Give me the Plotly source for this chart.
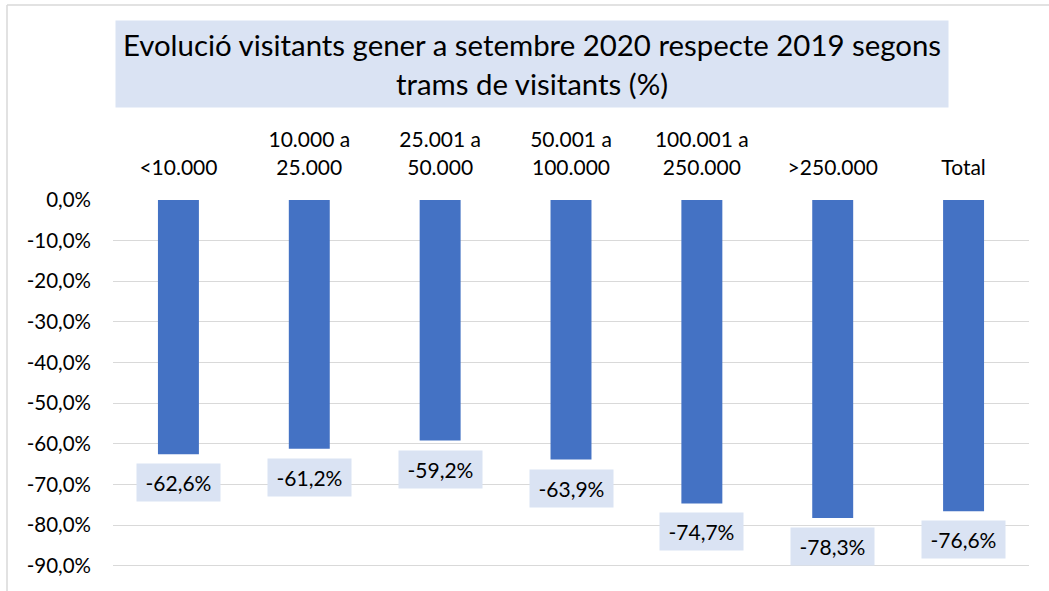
import plotly.graph_objects as go

categories = ["&lt;10.000", "10.000 a<br>25.000", "25.001 a<br>50.000", "50.001 a<br>100.000",
              "100.001 a<br>250.000", "&gt;250.000", "Total"]
values = [-62.6, -61.2, -59.2, -63.9, -74.7, -78.3, -76.6]
tick_vals = [0, -10, -20, -30, -40, -50, -60, -70, -80, -90]
tick_text = ["0,0%", "-10,0%", "-20,0%", "-30,0%", "-40,0%", "-50,0%", "-60,0%", "-70,0%", "-80,0%", "-90,0%"]
title_text = "Evolució visitants gener a setembre 2020 respecte 2019 segons<br>trams de visitants (%)"

W, H = 1049, 591
ML, MR, MT, MB = 113, 20, 200, 1
PW, PH = W - ML - MR, H - MT - MB
FONT = "Lato"
BAR = "#4472C4"
BOX = "#DAE3F3"

def px_x(x):
    return (x - ML) / PW

def px_y(y):
    return (H - MB - y) / PH

fig = go.Figure()
fig.add_trace(go.Bar(x=categories, y=values, marker=dict(color=BAR, line=dict(width=0)),
                     hoverinfo="skip"))

annotations = []
for c, v in zip(categories, values):
    annotations.append(dict(x=c, y=v, xref="x", yref="y", yanchor="top", xanchor="center",
                            yshift=-9, text=f"{v:.1f}".replace(".", ",") + "%",
                            showarrow=False, bgcolor=BOX, width=83, height=37, borderpad=0,
                            font=dict(family=FONT, size=21, color="#000000")))
annotations.append(dict(x=px_x(532), y=px_y(64), xref="paper", yref="paper",
                        xanchor="center", yanchor="middle", text=title_text, showarrow=False,
                        bgcolor=BOX, width=832, height=86, borderpad=0, align="center",
                        font=dict(family=FONT, size=29.4, color="#000000")))

fig.update_layout(
    width=W, height=H,
    margin=dict(l=ML, r=MR, t=MT, b=MB),
    paper_bgcolor="white", plot_bgcolor="white",
    bargap=0.687,
    showlegend=False,
    font=dict(family=FONT, size=20, color="#000000"),
    annotations=annotations,
    shapes=[
        dict(type="line", xref="paper", yref="paper", x0=px_x(7), x1=px_x(7), y0=px_y(H + 5), y1=px_y(5),
             line=dict(color="#D9D9D9", width=1.5)),
        dict(type="line", xref="paper", yref="paper", x0=px_x(7), x1=px_x(W + 5), y0=px_y(5), y1=px_y(5),
             line=dict(color="#D9D9D9", width=1.5)),
    ],
)
fig.update_xaxes(side="top", showline=False, ticks="", tickfont=dict(family=FONT, size=21),
                 ticklabelstandoff=20, automargin=False, fixedrange=True)
fig.update_yaxes(range=[-96, 0], tickvals=tick_vals, ticktext=tick_text, showgrid=True,
                 gridcolor="#D9D9D9", gridwidth=1.2, zeroline=False, showline=False,
                 tickfont=dict(family=FONT, size=20.5), ticklabelstandoff=21,
                 automargin=False, fixedrange=True)

fig.write_html("out.html", config={"displayModeBar": False},
               post_script="document.body.style.margin='0';document.body.style.padding='0';document.body.style.overflow='hidden';")
